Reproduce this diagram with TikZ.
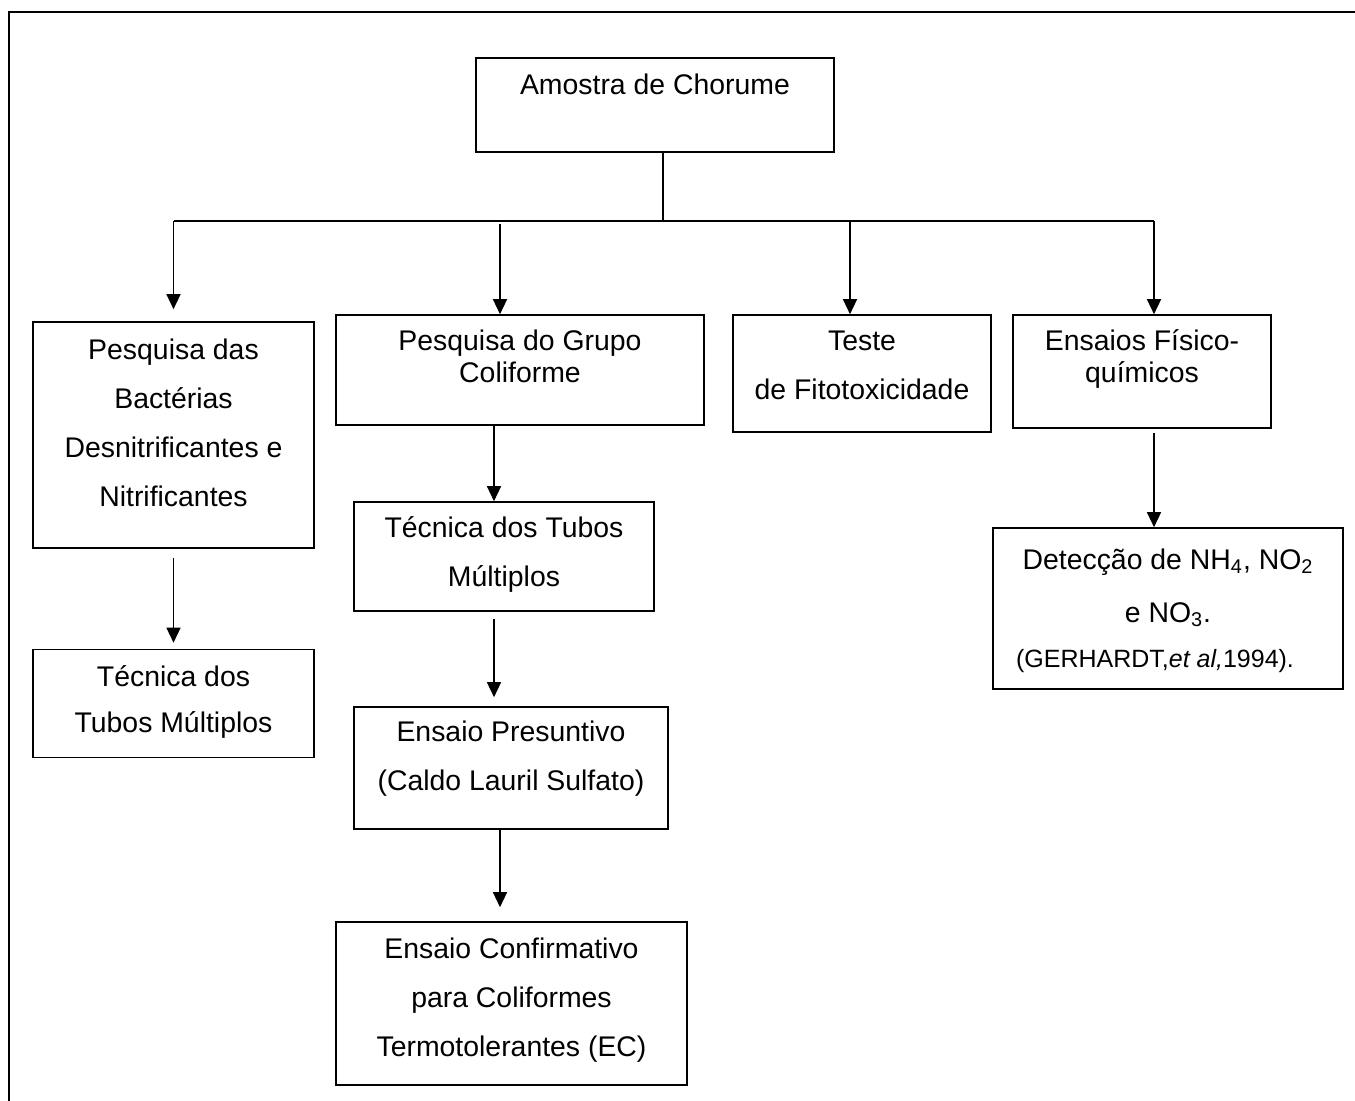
\documentclass[tikz,border=0pt]{standalone}
\usepackage{fontspec}
\setmainfont{Liberation Sans}
\usetikzlibrary{arrows.meta}

\tikzset{
  box/.style={draw, line width=0.8pt, inner sep=0pt},
  txt/.style={anchor=base, align=center, inner sep=0pt, font=\fontsize{14.2}{24.5}\selectfont},
  txtsingle/.style={txt, font=\fontsize{14.2}{16}\selectfont},
  link/.style={line width=0.7pt},
  arrow/.style={link, -{Triangle[length=7.5pt, width=7pt]}},
}

\begin{document}
\begin{tikzpicture}[x=0.5pt, y=-0.5pt]

\useasboundingbox (0,0) rectangle (1355,1101);

% frame
\draw [line width=0.9pt] (1355,12) -- (9,12) -- (9,1101);

% boxes
\node [box, minimum width=179pt, minimum height=47pt] (amostra) at (655,105) {};
\node [box, minimum width=140.5pt, minimum height=113pt] (bacterias) at (173.5,435) {};
\node [box, minimum width=184pt, minimum height=55pt] (coliforme) at (520,370) {};
\node [box, minimum width=129pt, minimum height=58.5pt] (fitotox) at (862,373.5) {};
\node [box, minimum width=129pt, minimum height=56.5pt] (fisicoq) at (1142,371.5) {};
\node [box, minimum width=140.5pt, minimum height=54pt] (tubosA) at (173.5,703.5) {};
\node [box, minimum width=150pt, minimum height=54.5pt] (tubosB) at (504,556.5) {};
\node [box, minimum width=157pt, minimum height=61pt] (presuntivo) at (511,768) {};
\node [box, minimum width=175.5pt, minimum height=81.5pt] (confirmativo) at (511.5,1003.5) {};
\node [box, minimum width=175pt, minimum height=80.5pt] (deteccao) at (1168,608.5) {};

% texts, placed by the baseline of their last line
\node [txt] (amostraTxt) at ([yshift=-18.5pt]amostra.north) {Amostra de Chorume};
\node [txt] (bacteriasTxt) at ([yshift=-92.5pt]bacterias.north)
      {Pesquisa das\\Bactérias\\Desnitrificantes e\\Nitrificantes};
\node [txtsingle] (coliformeTxt) at ([yshift=-34pt]coliforme.north) {Pesquisa do Grupo\\Coliforme};
\node [txt] (fitotoxTxt) at ([yshift=-42.5pt]fitotox.north) {Teste\\de Fitotoxicidade};
\node [txtsingle] (fisicoqTxt) at ([yshift=-34pt]fisicoq.north) {Ensaios Físico-\\químicos};
\node [txt] (tubosATxt) at ([yshift=-41.75pt]tubosA.north) {Técnica dos\\[-1.5pt]Tubos Múltiplos};
\node [txt] (tubosBTxt) at ([yshift=-42.5pt]tubosB.north) {Técnica dos Tubos\\Múltiplos};
\node [txt] (presuntivoTxt) at ([yshift=-42.25pt]presuntivo.north) {Ensaio Presuntivo\\(Caldo Lauril Sulfato)};
\node [txt] (confirmativoTxt) at ([yshift=-67.5pt]confirmativo.north)
      {Ensaio Confirmativo\\para Coliformes\\Termotolerantes (EC)};
\node [txt] (deteccaoTxt) at ([yshift=-70pt]deteccao.north)
      {Detecção de NH\textsubscript{4}, NO\textsubscript{2}\\[2pt]
       e NO\textsubscript{3}.\\[-2pt]
       {\fontsize{12.5}{15}\selectfont (GERHARDT,\textit{et al,}1994).\hspace*{13pt}}};

% connectors
\coordinate (junction) at (663,221);
\coordinate (barL) at (bacterias.north |- junction);
\coordinate (barR) at ([xshift=6pt]fisicoq.north |- junction);
\draw [link] (amostra.south -| junction) -- (junction);
\draw [link] (barL) -- (barR);
\draw [arrow] (barL) -- ([yshift=6pt]bacterias.north);
\draw [arrow] ([xshift=-10pt]coliforme.north |- junction) ++(0,3) -- ([xshift=-10pt]coliforme.north);
\draw [arrow] ([xshift=-6pt]fitotox.north |- junction) -- ([xshift=-6pt]fitotox.north);
\draw [arrow] (barR) -- ([xshift=6pt]fisicoq.north);

\draw [arrow] ([yshift=-4.5pt]bacterias.south) -- ([yshift=3pt]tubosA.north);
\draw [arrow] ([xshift=-5pt]tubosB.north |- coliforme.south) -- ([xshift=-5pt]tubosB.north);
\draw [arrow] ([xshift=-5pt,yshift=-3.5pt]tubosB.south) -- ([xshift=-8.5pt,yshift=4.5pt]presuntivo.north);
\draw [arrow] ([xshift=-5.5pt]presuntivo.south) -- ([xshift=-5.75pt,yshift=7pt]confirmativo.north);
\draw [arrow] ([xshift=6pt,yshift=-2pt]fisicoq.south) -- (deteccao.north -| barR);

\end{tikzpicture}
\end{document}
